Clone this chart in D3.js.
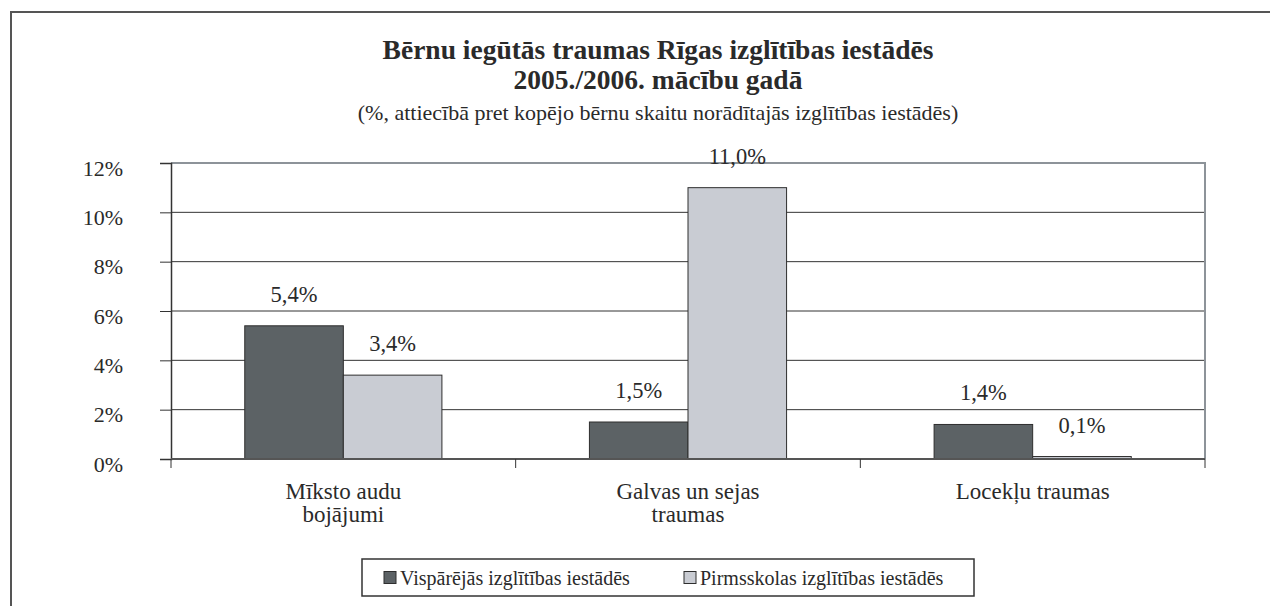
<!DOCTYPE html>
<html>
<head>
<meta charset="utf-8">
<script src="https://cdn.jsdelivr.net/npm/d3@7"></script>
<style>
  body { margin: 0; background: #fff; }
</style>
</head>
<body>
<div id="chart"></div>
<script>
// data
const categories = [["Mīksto audu", "bojājumi"], ["Galvas un sejas", "traumas"], ["Locekļu traumas"]];
const seriesNames = ["Vispārējās izglītības iestādēs", "Pirmsskolas izglītības iestādēs"];
const general = [5.4, 1.5, 1.4];
const preschool = [3.4, 11.0, 0.1];
const yTicks = [0, 2, 4, 6, 8, 10, 12];

const width = 1270, height = 606;
const margin = { top: 163, bottom: 147, left: 171, right: 65 };
const colors = ["#5c6265", "#c9ccd3"];
const FONT = "'Liberation Serif', 'DejaVu Serif', 'Times New Roman', serif";
const INK = "#2a2a2a";

const svg = d3.select("#chart").append("svg")
  .attr("width", width).attr("height", height)
  .attr("font-family", FONT);

// outer frame (top and left edges only)
svg.append("path")
  .attr("d", `M11,${height} L11,12 L${width},12`)
  .attr("fill", "none").attr("stroke", "#555").attr("stroke-width", 2);

// titles
svg.append("text").attr("x", 658).attr("y", 59)
  .attr("text-anchor", "middle").attr("font-size", 27.5).attr("font-weight", "bold").attr("fill", INK)
  .text("Bērnu iegūtās traumas Rīgas izglītības iestādēs");
svg.append("text").attr("x", 658).attr("y", 89)
  .attr("text-anchor", "middle").attr("font-size", 27.5).attr("font-weight", "bold").attr("fill", INK)
  .text("2005./2006. mācību gadā");
svg.append("text").attr("x", 658).attr("y", 120)
  .attr("text-anchor", "middle").attr("font-size", 22).attr("fill", INK)
  .text("(%, attiecībā pret kopējo bērnu skaitu norādītajās izglītības iestādēs)");

const chartW = width - margin.left - margin.right,
  chartH = height - margin.top - margin.bottom;

const scaleX = d3.scaleBand(d3.range(categories.length), [0, chartW]).paddingInner(0).paddingOuter(0);
const scaleY = d3.scaleLinear([0, 12], [chartH, 0]);
const barW = scaleX.bandwidth() * 0.286;
const barOffset = (scaleX.bandwidth() - 2 * barW) / 2;

const chart = svg.append("g").attr("transform", `translate(${margin.left}, ${margin.top})`);

// gridlines
chart.selectAll("line.grid")
  .data(yTicks.filter(d => d > 0 && d < 12))
  .join("line").classed("grid", true)
  .attr("x1", 0).attr("x2", chartW)
  .attr("y1", d => scaleY(d)).attr("y2", d => scaleY(d))
  .attr("stroke", "#333").attr("stroke-width", 1);

// plot border top + right (grey)
chart.append("path")
  .attr("d", `M0,${scaleY(12)} L${chartW},${scaleY(12)} L${chartW},${scaleY(0)}`)
  .attr("fill", "none").attr("stroke", "#8d9399").attr("stroke-width", 2);

// bars
const seriesData = [general, preschool];
seriesData.forEach((vals, s) => {
  chart.selectAll(`rect.s${s}`)
    .data(vals)
    .join("rect").attr("class", `s${s}`)
    .attr("x", (d, i) => scaleX(i) + barOffset + s * barW)
    .attr("y", d => scaleY(d))
    .attr("width", barW)
    .attr("height", d => scaleY(0) - scaleY(d))
    .attr("fill", colors[s]).attr("stroke", "#2e2e2e").attr("stroke-width", 1);

  chart.selectAll(`text.l${s}`)
    .data(vals)
    .join("text").attr("class", `l${s}`)
    .attr("x", (d, i) => scaleX(i) + barOffset + s * barW + barW / 2)
    .attr("y", d => scaleY(d) - 24)
    .attr("text-anchor", "middle").attr("font-size", 22.5).attr("fill", INK)
    .text(d => d.toFixed(1).replace(".", ",") + "%");
});

// y axis
const axisY = chart.append("g")
  .call(d3.axisLeft(scaleY).tickValues(yTicks).tickSize(11).tickPadding(37)
    .tickFormat(d => d + "%"));
axisY.attr("font-family", FONT).attr("font-size", 22);
axisY.select(".domain").attr("stroke", "#333").attr("stroke-width", 1.5);
axisY.selectAll(".tick line").attr("stroke", "#333");
axisY.selectAll(".tick text").attr("dy", "0.55em").attr("fill", INK);

// x axis
const axisX = chart.append("g").attr("transform", `translate(0, ${chartH})`);
axisX.append("line").attr("x1", 0).attr("x2", chartW)
  .attr("stroke", "#555").attr("stroke-width", 2);
axisX.selectAll("line.tick")
  .data(d3.range(categories.length + 1))
  .join("line").classed("tick", true)
  .attr("x1", d => d * scaleX.step()).attr("x2", d => d * scaleX.step())
  .attr("y1", 0).attr("y2", 9)
  .attr("stroke", "#333");
axisX.selectAll("text.cat")
  .data(categories)
  .join("text").classed("cat", true)
  .attr("text-anchor", "middle").attr("font-size", 23).attr("fill", INK)
  .attr("transform", (d, i) => `translate(${scaleX(i) + scaleX.bandwidth() / 2}, 40)`)
  .selectAll("tspan").data(d => d).join("tspan")
  .attr("x", 0).attr("dy", (d, i) => i === 0 ? 0 : 23)
  .text(d => d);

// legend
const legend = svg.append("g").attr("transform", "translate(362, 559)");
legend.append("rect").attr("width", 612).attr("height", 37)
  .attr("fill", "#fff").attr("stroke", "#333").attr("stroke-width", 1.5);
const legendX = [22, 322];
seriesNames.forEach((name, s) => {
  legend.append("rect").attr("x", legendX[s]).attr("y", 12.5)
    .attr("width", 12).attr("height", 12)
    .attr("fill", colors[s]).attr("stroke", "#2e2e2e");
  legend.append("text").attr("x", legendX[s] + 16).attr("y", 25.5)
    .attr("font-size", 20).attr("fill", INK).text(name);
});
</script>
</body>
</html>
